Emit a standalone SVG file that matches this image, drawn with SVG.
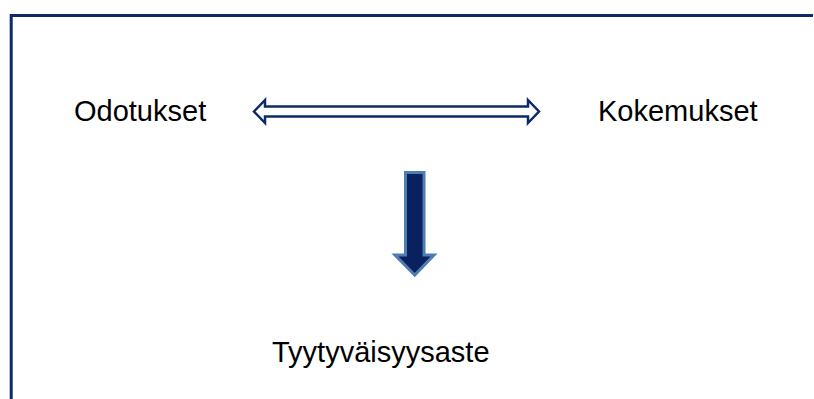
<svg xmlns="http://www.w3.org/2000/svg" width="814" height="399" viewBox="0 0 814 399">
  <style>
    .label { font-family: "Liberation Sans", Arial, sans-serif; font-size: 29px; fill: #000000; }
    .frame { fill: none; stroke: #0d2a66; stroke-width: 3; }
    .twoway { fill: #ffffff; stroke: #0d2a66; stroke-width: 2.5; stroke-linejoin: miter; }
    .down { fill: #0a215f; stroke: #4f7db1; stroke-width: 3; stroke-linejoin: miter; }
  </style>
  <rect width="814" height="399" fill="#ffffff"/>
  <!-- open frame: left and top edges -->
  <path class="frame" d="M11.2,399 L11.2,15.5 L813,15.5"/>

  <g id="odotukset">
    <text class="label" x="74" y="121">Odotukset</text>
  </g>
  <g id="kokemukset">
    <text class="label" x="598" y="121">Kokemukset</text>
  </g>
  <g id="tyytyvaisyysaste">
    <text class="label" x="272" y="362">Tyytyväisyysaste</text>
  </g>

  <g id="connectors">
    <!-- two-way outlined arrow between the two terms -->
    <path class="twoway" d="M254,111.5 L265,100 L265,106.5 L528,106.5 L528,100 L539,111.5 L528,123 L528,116.5 L265,116.5 L265,123 Z"/>
    <!-- solid block arrow pointing down to the result -->
    <path class="down" d="M405.5,172.5 L424,172.5 L424,255 L434,255 L414.75,275 L395,255 L405.5,255 Z"/>
  </g>
</svg>
